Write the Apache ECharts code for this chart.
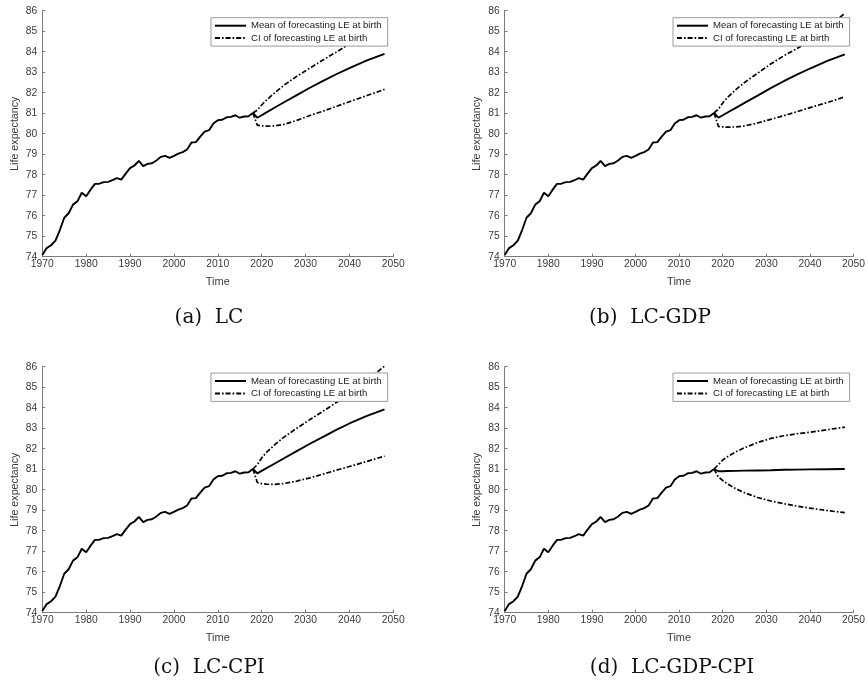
<!DOCTYPE html>
<html>
<head>
<meta charset="utf-8">
<title>Life expectancy forecasts</title>
<script src="https://cdn.jsdelivr.net/npm/echarts@6/dist/echarts.min.js"></script>
<style>
  html, body { margin: 0; padding: 0; background: #ffffff; }
  #chart { width: 868px; height: 688px; }
</style>
</head>
<body>
<div id="chart"></div>
<script>
// Observed life expectancy at birth, 1970-2018
var histYears = [1970, 1971, 1972, 1973, 1974, 1975, 1976, 1977, 1978, 1979,
                 1980, 1981, 1982, 1983, 1984, 1985, 1986, 1987, 1988, 1989,
                 1990, 1991, 1992, 1993, 1994, 1995, 1996, 1997, 1998, 1999,
                 2000, 2001, 2002, 2003, 2004, 2005, 2006, 2007, 2008, 2009,
                 2010, 2011, 2012, 2013, 2014, 2015, 2016, 2017, 2018];
var histLE = [74.08, 74.42, 74.56, 74.78, 75.30, 75.90, 76.12, 76.54, 76.70, 77.12,
              76.95, 77.27, 77.55, 77.56, 77.64, 77.65, 77.73, 77.83, 77.76, 78.05,
              78.32, 78.45, 78.67, 78.42, 78.53, 78.56, 78.69, 78.87, 78.92, 78.82,
              78.92, 79.03, 79.10, 79.23, 79.57, 79.59, 79.86, 80.10, 80.17, 80.50,
              80.66, 80.68, 80.80, 80.82, 80.90, 80.78, 80.84, 80.85, 81.01];

// Forecast horizon (starts at the last observed year)
var fcYears = [2018, 2019, 2020, 2021, 2023, 2025, 2028, 2031, 2034, 2037, 2040, 2044, 2048];

// (a) LC
var lcMean  = [81.01, 80.78, 80.90, 81.03, 81.28, 81.52, 81.88, 82.24, 82.58, 82.90, 83.20, 83.58, 83.89];
var lcUpper = [81.01, 81.15, 81.40, 81.62, 82.00, 82.35, 82.80, 83.20, 83.60, 83.98, 84.38, 84.90, 85.40];
var lcLower = [81.01, 80.42, 80.38, 80.37, 80.38, 80.45, 80.65, 80.89, 81.10, 81.33, 81.56, 81.86, 82.16];

// (b) LC-GDP
var gdpMean  = [81.01, 80.78, 80.90, 81.02, 81.26, 81.50, 81.86, 82.22, 82.56, 82.88, 83.18, 83.55, 83.87];
var gdpUpper = [81.01, 81.20, 81.50, 81.75, 82.15, 82.50, 82.95, 83.40, 83.80, 84.15, 84.50, 85.18, 85.87];
var gdpLower = [81.01, 80.36, 80.33, 80.32, 80.33, 80.38, 80.52, 80.70, 80.88, 81.07, 81.27, 81.52, 81.80];

// (c) LC-CPI
var cpiMean  = [81.01, 80.80, 80.92, 81.04, 81.28, 81.52, 81.88, 82.24, 82.58, 82.92, 83.23, 83.60, 83.92];
var cpiUpper = [81.01, 81.22, 81.55, 81.80, 82.20, 82.55, 83.00, 83.42, 83.83, 84.25, 84.65, 85.33, 86.03];
var cpiLower = [81.01, 80.35, 80.30, 80.27, 80.26, 80.30, 80.42, 80.58, 80.76, 80.95, 81.13, 81.38, 81.64];

// (d) LC-GDP-CPI
var allMean  = [81.01, 80.90, 80.90, 80.91, 80.92, 80.93, 80.94, 80.95, 80.97, 80.98, 80.99, 81.00, 81.01];
var allUpper = [81.01, 81.22, 81.45, 81.60, 81.85, 82.05, 82.30, 82.50, 82.63, 82.73, 82.80, 82.93, 83.05];
var allLower = [81.01, 80.62, 80.45, 80.30, 80.05, 79.85, 79.62, 79.45, 79.32, 79.20, 79.10, 78.98, 78.88];

var xTicks = { min: 1970, max: 2050, step: 10 };
var yTicks = { min: 74, max: 86, step: 1 };

var meanName = 'Mean of forecasting LE at birth';
var ciName = 'CI of forecasting LE at birth';
var captions = ['(a)  LC', '(b)  LC-GDP', '(c)  LC-CPI', '(d)  LC-GDP-CPI'];
var panels = [
  { mean: lcMean,  upper: lcUpper,  lower: lcLower },
  { mean: gdpMean, upper: gdpUpper, lower: gdpLower },
  { mean: cpiMean, upper: cpiUpper, lower: cpiLower },
  { mean: allMean, upper: allUpper, lower: allLower }
];

function pairs(xs, ys) {
  return xs.map(function (x, i) { return [x, ys[i]]; });
}

// Layout of the four panels
var boxes = [
  { left: 42.3,  top: 10.7,  width: 351, height: 246, legendLeft: 211, legendTop: 17.7, capX: 209, capY: 318 },
  { left: 504.7, top: 10.7,  width: 351.6, height: 246, legendLeft: 673, legendTop: 17.7, capX: 650, capY: 318 },
  { left: 42.3,  top: 366.7, width: 351, height: 246, legendLeft: 211, legendTop: 373, capX: 209, capY: 668 },
  { left: 504.7, top: 366.7, width: 351.6, height: 246, legendLeft: 673, legendTop: 373, capX: 672, capY: 668 }
];

var axisGray = '#7a7a7a';
var labelGray = '#3a3a3a';
var sansFont = '"Liberation Sans", Arial, Helvetica, sans-serif';
var ciDash = [5, 2, 1.6, 2];

function plainNumber(v) { return String(v); }

var grids = [], xAxes = [], yAxes = [], series = [], legends = [], graphics = [];

boxes.forEach(function (b, i) {
  grids.push({ left: b.left, top: b.top, width: b.width, height: b.height, containLabel: false });

  xAxes.push({
    type: 'value', gridIndex: i,
    min: xTicks.min, max: xTicks.max, interval: xTicks.step,
    name: 'Time', nameLocation: 'middle', nameGap: 20,
    nameTextStyle: { fontFamily: sansFont, fontSize: 11, color: labelGray },
    axisLine: { show: true, onZero: false, lineStyle: { color: axisGray, width: 1 } },
    axisTick: { show: true, inside: true, length: 3, lineStyle: { color: axisGray } },
    axisLabel: { fontFamily: sansFont, fontSize: 10.3, color: labelGray, margin: 2, formatter: plainNumber },
    splitLine: { show: false }
  });

  yAxes.push({
    type: 'value', gridIndex: i,
    min: yTicks.min, max: yTicks.max, interval: yTicks.step,
    name: 'Life expectancy', nameLocation: 'middle', nameGap: 22,
    nameTextStyle: { fontFamily: sansFont, fontSize: 10.7, color: labelGray },
    axisLine: { show: true, onZero: false, lineStyle: { color: axisGray, width: 1 } },
    axisTick: { show: true, inside: true, length: 3, lineStyle: { color: axisGray } },
    axisLabel: { fontFamily: sansFont, fontSize: 10.3, color: labelGray, margin: 5, formatter: plainNumber },
    splitLine: { show: false }
  });

  var p = panels[i];
  var solid = { color: '#000', width: 1.9, type: 'solid' };
  var dashed = { color: '#000', width: 1.7, type: ciDash };

  series.push({
    name: 'Observed', type: 'line', xAxisIndex: i, yAxisIndex: i,
    data: pairs(histYears, histLE), showSymbol: false, symbol: 'none',
    lineStyle: solid, itemStyle: { color: '#000' }, silent: true, z: 3
  });
  series.push({
    name: meanName, type: 'line', xAxisIndex: i, yAxisIndex: i,
    data: pairs(fcYears, p.mean), showSymbol: false, symbol: 'none',
    lineStyle: solid, itemStyle: { color: '#000' }, silent: true, z: 3
  });
  series.push({
    name: ciName, type: 'line', xAxisIndex: i, yAxisIndex: i,
    data: pairs(fcYears, p.upper), showSymbol: false, symbol: 'none',
    lineStyle: dashed, itemStyle: { color: '#000' }, silent: true, z: 2
  });
  series.push({
    name: ciName, type: 'line', xAxisIndex: i, yAxisIndex: i,
    data: pairs(fcYears, p.lower), showSymbol: false, symbol: 'none',
    lineStyle: dashed, itemStyle: { color: '#000' }, silent: true, z: 2
  });

  legends.push({
    data: [meanName, ciName],
    orient: 'vertical',
    left: b.legendLeft, top: b.legendTop,
    itemWidth: 31, itemHeight: 10, itemGap: 2.4,
    padding: [3, 6, 3, 3],
    backgroundColor: '#ffffff',
    borderColor: '#9a9a9a', borderWidth: 1, borderRadius: 0,
    selectedMode: false,
    // line sample only, no marker in the middle
    itemStyle: { opacity: 0 },
    textStyle: { fontFamily: sansFont, fontSize: 9.6, color: '#222' },
    z: 10
  });

  graphics.push({
    type: 'text', x: b.capX, y: b.capY,
    style: {
      text: captions[i],
      font: '20px "DejaVu Serif", "Liberation Serif", serif',
      fill: '#111', align: 'center', verticalAlign: 'middle'
    }
  });
});

var chart = echarts.init(document.getElementById('chart'), null, { renderer: 'canvas' });
chart.setOption({
  backgroundColor: '#ffffff',
  animation: false,
  grid: grids,
  xAxis: xAxes,
  yAxis: yAxes,
  legend: legends,
  series: series,
  graphic: graphics
});
</script>
</body>
</html>
